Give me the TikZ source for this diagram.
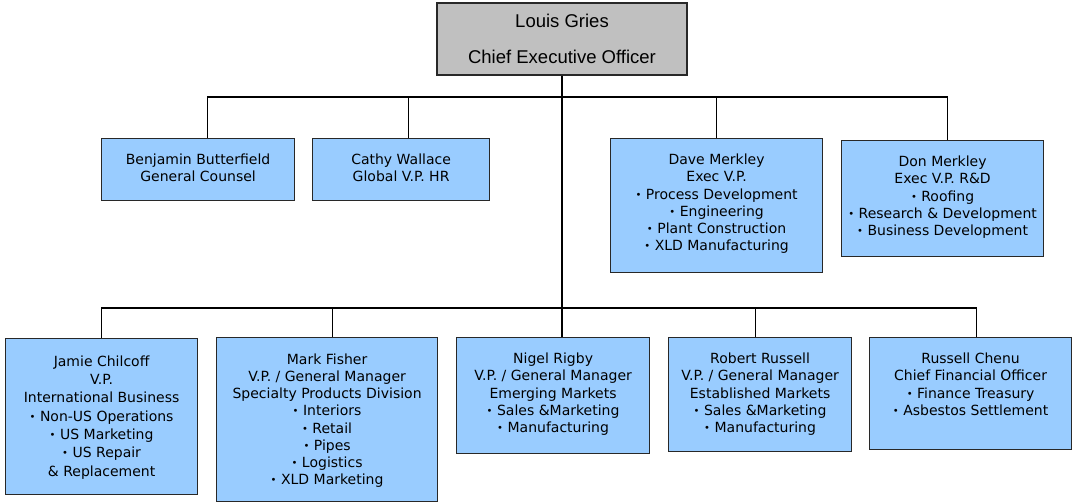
\documentclass[tikz,border=0pt]{standalone}
\usepackage{fontspec}
\setmainfont{DejaVu Sans}
\newfontfamily\ceofont{Liberation Sans}
\usetikzlibrary{positioning}

\definecolor{boxblue}{RGB}{153,204,255}
\definecolor{boxgray}{RGB}{192,192,192}
\definecolor{boxline}{RGB}{40,40,40}
\newcommand{\dotitem}{\raisebox{1pt}{\fontsize{10}{10}\selectfont•}\ }

\begin{document}
\begin{tikzpicture}[x=1pt, y=-1pt, line width=1.2pt,
  box/.style={draw=boxline, fill=boxblue, anchor=north west, inner sep=0pt},
  boxtext/.style={align=center, inner sep=0pt, font=\fontsize{14}{17.2}\selectfont}]

\useasboundingbox (0,0) rectangle (1072,502);

% Vertice
\node[draw=boxline, fill=boxgray, minimum width=250pt, minimum height=72pt,
      align=center, inner sep=0pt, font=\ceofont\fontsize{18.5}{36}\selectfont]
      (ceo) at (562,39) {Louis Gries\\Chief Executive Officer};

% Caselle (nome/x/y/larghezza/altezza)
\foreach \name/\x/\y/\w/\h in {benjamin/101/138/193/62, cathy/312/138/177/62,
                               dave/610/138/212/134, don/841/140/202/116,
                               jamie/5/338/192/156, mark/216/337/221/164,
                               nigel/456/337/193/116, robert/668/337/183/114,
                               russell/869/337/202/112}
    \node[box, minimum width=\w pt, minimum height=\h pt] (\name) at (\x,\y) {};

% Testi, prima fila
\node[boxtext, below=15.5pt of benjamin.north] (benjamin-t) {Benjamin Butterfield\\General Counsel};
\node[boxtext, below=15.5pt of cathy.north] (cathy-t) {Cathy Wallace\\Global V.P. HR};
\node[boxtext, below=15.5pt of dave.north] (dave-t) {Dave Merkley\\Exec V.P.\\\dotitem Process Development\\\dotitem Engineering\\\dotitem Plant Construction\\\dotitem XLD Manufacturing};
\node[boxtext, below=15.5pt of don.north] (don-t) {Don Merkley\\Exec V.P. R\&D\\\dotitem Roofing\\\dotitem Research \& Development\\\dotitem Business Development};

% Testi, seconda fila
\node[boxtext, font=\fontsize{14}{18.3}\selectfont, below=17pt of jamie.north] (jamie-t) {Jamie Chilcoff\\V.P.\\International Business\\\dotitem Non-US Operations\\\dotitem US Marketing\\\dotitem US Repair\\\& Replacement};
\node[boxtext, below=16pt of mark.north] (mark-t) {Mark Fisher\\V.P. / General Manager\\Specialty Products Division\\\dotitem Interiors\\\dotitem Retail\\\dotitem Pipes\\\dotitem Logistics\\\dotitem XLD Marketing};
\node[boxtext, below=15.5pt of nigel.north] (nigel-t) {Nigel Rigby\\V.P. / General Manager\\Emerging Markets\\\dotitem Sales \&Marketing\\\dotitem Manufacturing};
\node[boxtext, below=15.5pt of robert.north] (robert-t) {Robert Russell\\V.P. / General Manager\\Established Markets\\\dotitem Sales \&Marketing\\\dotitem Manufacturing};
\node[boxtext, below=15.5pt of russell.north] (russell-t) {Russell Chenu\\Chief Financial Officer\\\dotitem Finance Treasury\\\dotitem Asbestos Settlement};

% Collegamenti
\coordinate (top-bus) at (563,97);
\coordinate (low-bus) at (563,308);
\foreach \name/\dx in {benjamin/9.5, cathy/7.5, dave/0, don/5,
                       jamie/0, mark/5, robert/-4.5, russell/6}
    \coordinate (\name-in) at ([xshift=\dx pt]\name.north);

\draw (ceo.south) -- (ceo.south |- nigel.north);
\draw (benjamin-in) |- (don-in |- top-bus) -- (don-in);
\foreach \name in {cathy, dave}
    \draw (\name-in) -- (\name-in |- top-bus);
\draw (jamie-in) |- (russell-in |- low-bus) -- (russell-in);
\foreach \name in {mark, robert}
    \draw (\name-in) -- (\name-in |- low-bus);

\end{tikzpicture}
\end{document}
